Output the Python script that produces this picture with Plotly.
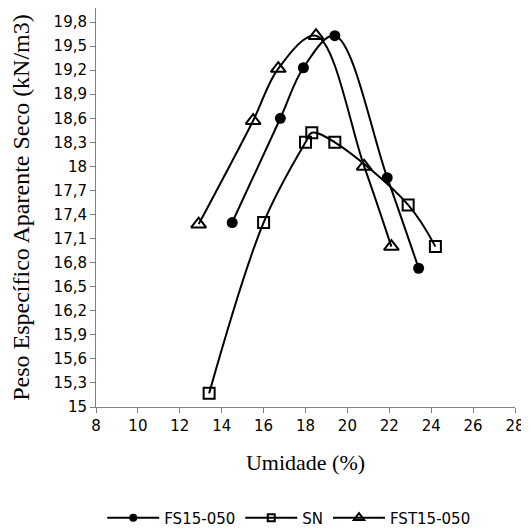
import plotly.graph_objects as go

# Data
fs_x = [14.5, 16.8, 17.9, 19.4, 21.9, 23.4]
fs_y = [17.3, 18.6, 19.23, 19.63, 17.86, 16.73]

sn_x = [13.4, 16.0, 18.0, 18.3, 19.4, 22.9, 24.2]
sn_y = [15.17, 17.3, 18.3, 18.42, 18.3, 17.52, 17.0]

fst_x = [12.9, 15.5, 16.7, 18.5, 20.8, 22.1]
fst_y = [17.28, 18.57, 19.22, 19.63, 18.0, 17.0]

series_names = ["FS15-050", "SN", "FST15-050"]

y_tick_vals = [15, 15.3, 15.6, 15.9, 16.2, 16.5, 16.8, 17.1, 17.4, 17.7,
               18, 18.3, 18.6, 18.9, 19.2, 19.5, 19.8]
y_tick_text = ["15", "15,3", "15,6", "15,9", "16,2", "16,5", "16,8", "17,1",
               "17,4", "17,7", "18", "18,3", "18,6", "18,9", "19,2", "19,5", "19,8"]
x_tick_vals = [8, 10, 12, 14, 16, 18, 20, 22, 24, 26, 28]

line_style = dict(color="black", width=2, shape="spline", smoothing=1.0)

markers = [
    dict(symbol="circle", size=11, color="black"),
    dict(symbol="square-open", size=11, color="black", line=dict(width=2)),
    dict(symbol="triangle-up-open", size=13, color="black", line=dict(width=2)),
]
legend_markers = [
    dict(symbol="circle", size=8, color="black"),
    dict(symbol="square-open", size=7, color="black", line=dict(width=2)),
    dict(symbol="triangle-up-open", size=9, color="black", line=dict(width=2)),
]

fig = go.Figure()
for xs, ys, name, mk in zip([fs_x, sn_x, fst_x], [fs_y, sn_y, fst_y], series_names, markers):
    fig.add_trace(go.Scatter(x=xs, y=ys, name=name, mode="lines+markers",
                             line=line_style, marker=mk, showlegend=False))
for name, mk in zip(series_names, legend_markers):
    fig.add_trace(go.Scatter(x=[None], y=[None], name=name, mode="lines+markers",
                             line=dict(color="black", width=2), marker=mk, showlegend=True))

# page body has an 8px margin, so the figure is sized to fit the window
fig.update_layout(
    width=521, height=521,
    margin=dict(l=88, r=14, t=0, b=122, autoexpand=False),
    plot_bgcolor="white", paper_bgcolor="white",
    font=dict(family="DejaVu Sans", size=15, color="black"),
    showlegend=True,
    legend=dict(orientation="h", x=0.46, xanchor="center", y=-0.278, yanchor="middle",
                font=dict(family="DejaVu Sans", size=15, color="black"),
                itemwidth=52, tracegroupgap=0),
    xaxis=dict(
        range=[8, 28], tickvals=x_tick_vals, showgrid=False, zeroline=False,
        showline=True, linecolor="#808080", linewidth=1, automargin=False,
        ticks="outside", ticklen=5, tickcolor="#808080",
        title=dict(text="Umidade (%)", font=dict(family="Liberation Serif", size=22), standoff=20),
    ),
    yaxis=dict(
        range=[15, 19.975], tickvals=y_tick_vals, ticktext=y_tick_text,
        showgrid=False, zeroline=False, automargin=False,
        showline=True, linecolor="#808080", linewidth=1,
        ticks="outside", ticklen=5, tickcolor="#808080",
        title=dict(text="Peso Específico Aparente Seco (kN/m3)",
                   font=dict(family="Liberation Serif", size=24), standoff=19),
    ),
)

fig.write_html("out.html")
